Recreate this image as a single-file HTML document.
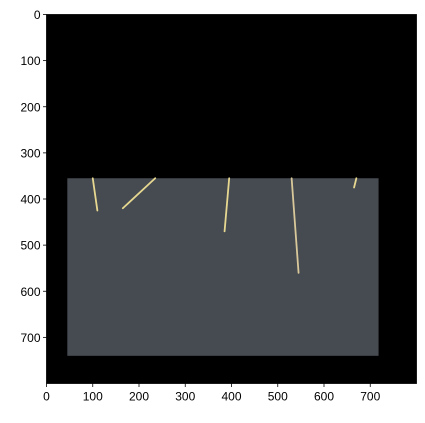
<!DOCTYPE html>
<html><head><meta charset="utf-8"><style>
body{margin:0;background:#fff;width:425px;height:418px;overflow:hidden}
text{font-family:"Liberation Sans",sans-serif;font-size:12px;fill:#000}
</style></head><body>
<svg width="425" height="418">
<g id="root"></g>
</svg>
<script>
const xTicks=[0,100,200,300,400,500,600,700];
const yTicks=[0,100,200,300,400,500,600,700];
const extentW=800, extentH=800;
const plate=[45,355,718,740]; // x0,y0,x1,y1 in image coords
const roots=[[100,355,110,425],[235,355,165,420],[395,355,385,470],[530,355,545,560],[670,355,665,375]];
const L=46.5,T=14.5,R=416.5,B=383.5;
const sx=v=>L+v*(R-L)/extentW, sy=v=>T+v*(B-T)/extentH;
const g=document.getElementById('root');
const NS='http://www.w3.org/2000/svg';
function mk(t,a){const e=document.createElementNS(NS,t);for(const k in a)e.setAttribute(k,a[k]);g.appendChild(e);return e;}
let bg=mk('rect',{x:L,y:T,width:R-L,height:B-T,fill:'#000'});


let p=mk('rect',{x:sx(plate[0]),y:sy(plate[1]),width:sx(plate[2])-sx(plate[0]),height:sy(plate[3])-sy(plate[1]),fill:'#464a51'});


roots.forEach((r,i)=>{
 let l=mk('line',{x1:sx(r[0]),y1:sy(r[1]),x2:sx(r[2]),y2:sy(r[3]),stroke:i==3?'#d8c89a':'#e6d890','stroke-width':1.8,'stroke-linecap':'round'});
 
 
});
xTicks.forEach(v=>{
 mk('line',{x1:sx(v),y1:B,x2:sx(v),y2:B+3.5,stroke:'#000','stroke-width':0.8});
 let t=mk('text',{x:sx(v),y:B+17,'text-anchor':'middle'});t.textContent=v;
 
 
});
yTicks.forEach(v=>{
 mk('line',{x1:L-3.5,y1:sy(v),x2:L,y2:sy(v),stroke:'#000','stroke-width':0.8});
 let t=mk('text',{x:L-6,y:sy(v)+4.5,'text-anchor':'end'});t.textContent=v;
 
 
});
let f=mk('rect',{x:L,y:T,width:R-L,height:B-T,fill:'none',stroke:'#000','stroke-width':0.8});


</script>
</body></html>
